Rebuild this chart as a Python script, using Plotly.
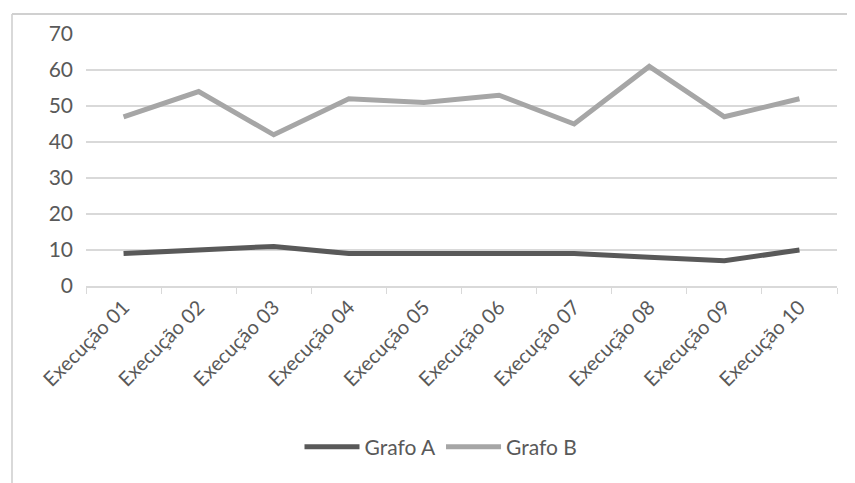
import plotly.graph_objects as go

categories = ["Execução 01", "Execução 02", "Execução 03", "Execução 04", "Execução 05",
              "Execução 06", "Execução 07", "Execução 08", "Execução 09", "Execução 10"]
grafo_a = [9, 10, 11, 9, 9, 9, 9, 8, 7, 10]
grafo_b = [47, 54, 42, 52, 51, 53, 45, 61, 47, 52]
y_ticks = [0, 10, 20, 30, 40, 50, 60, 70]

FONT = "Lato"
TXT = "#595959"

fig = go.Figure()
fig.add_trace(go.Scatter(x=categories, y=grafo_a, name="Grafo A", mode="lines",
                         line=dict(color="#595959", width=5)))
fig.add_trace(go.Scatter(x=categories, y=grafo_b, name="Grafo B", mode="lines",
                         line=dict(color="#A6A6A6", width=5)))

# page body has an 8px margin; positions below are in figure pixels
OFF = 8
W, H = 855, 483
L, T = 86 - OFF, 34 - OFF
R = W - (837 - OFF)
B = H - (286 - OFF)
pw, ph = W - L - R, H - T - B
bx = (12 - OFF - L) / pw
by = (H - B - 6) / ph

fig.update_layout(
    width=W, height=H,
    margin=dict(l=L, r=R, t=T, b=B, autoexpand=False),
    paper_bgcolor="white", plot_bgcolor="white",
    font=dict(family=FONT, size=20, color=TXT),
    showlegend=True,
    legend=dict(orientation="h", x=(441 - OFF - L) / pw, xanchor="center",
                y=(H - B - (447 - OFF)) / ph, yanchor="middle",
                font=dict(family=FONT, size=21, color=TXT), itemwidth=55, tracegroupgap=0),
    xaxis=dict(type="category", range=[-0.5, 9.5], tickangle=-45, showgrid=False, automargin=False,
               ticks="outside", tickson="boundaries", ticklen=6, tickcolor="#D9D9D9",
               showline=True, linecolor="#D9D9D9", linewidth=1.5,
               tickfont=dict(family=FONT, size=20, color=TXT)),
    yaxis=dict(range=[0, 70], tickvals=y_ticks, showgrid=True, gridcolor="#D9D9D9", gridwidth=1.5,
               zeroline=False, showline=False, ticks="", ticklabelstandoff=12, automargin=False,
               tickfont=dict(family=FONT, size=21, color=TXT)),
    shapes=[
        dict(type="line", xref="paper", yref="paper", x0=bx, x1=bx, y0=-1.5, y1=by,
             line=dict(color="#D9D9D9", width=2)),
        dict(type="line", xref="paper", yref="paper", x0=bx, x1=1.05, y0=by, y1=by,
             line=dict(color="#D0D0D0", width=2)),
    ],
)

fig.write_html("out.html")
